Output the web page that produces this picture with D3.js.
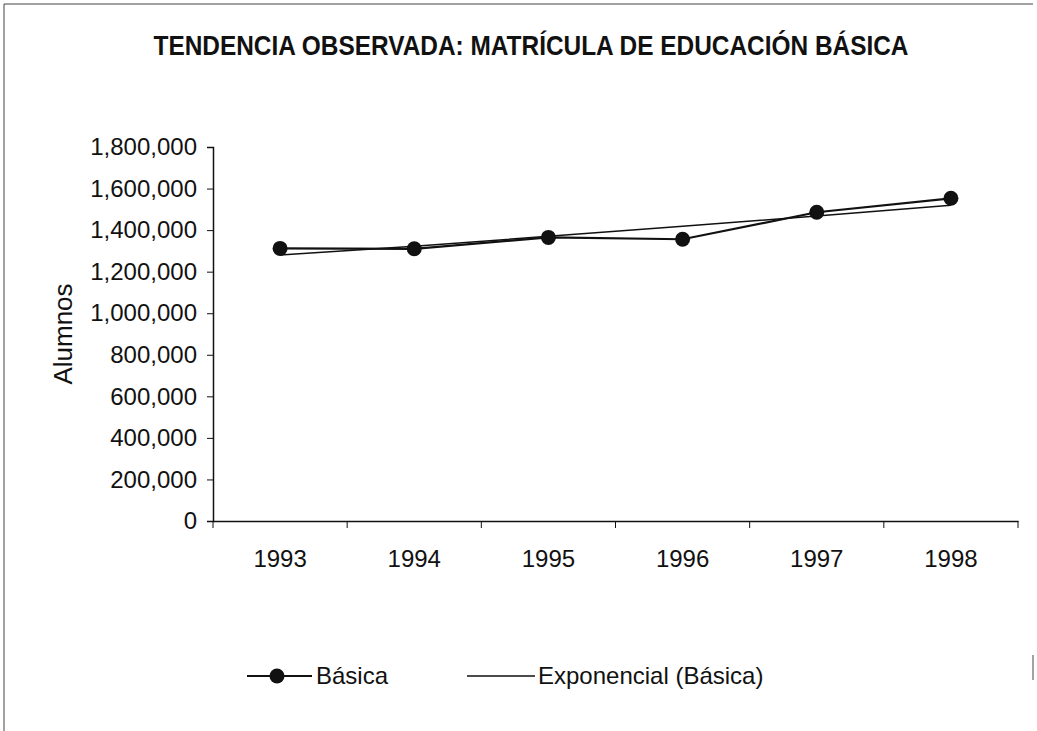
<!DOCTYPE html>
<html>
<head>
<meta charset="utf-8">
<script src="https://cdn.jsdelivr.net/npm/d3@7"></script>
<style>
  body { margin: 0; background: #fff; }
  svg { display: block; }
  text { font-family: Arial, 'Liberation Sans', sans-serif; fill: #111; }
</style>
</head>
<body>
<div id="chart"></div>
<script>
// Data
const years = ['1993', '1994', '1995', '1996', '1997', '1998'];
const basica = [1312000, 1310000, 1365000, 1356000, 1486000, 1553000];
const exponencial = [1280000, 1322000, 1370000, 1418000, 1468000, 1520000];
const yTicks = [0, 200000, 400000, 600000, 800000, 1000000, 1200000, 1400000, 1600000, 1800000];

const width = 1037, height = 731;
const margin = {left: 213, right: 19, top: 147, bottom: 210};
const fontStack = "Arial, 'Liberation Sans', sans-serif";

const svg = d3.select('#chart').append('svg')
    .attr('width', width)
    .attr('height', height);

// outer frame of the chart area (only top, left and a bit of right show)
svg.append('path')
    .attr('d', 'M4,' + (height + 10) + 'V4H1033')
    .attr('fill', 'none')
    .attr('stroke', '#444')
    .attr('stroke-width', 1);
svg.append('line')
    .attr('x1', 1033).attr('x2', 1033).attr('y1', 655).attr('y2', 680)
    .attr('stroke', '#444');

svg.append('text')
    .attr('x', 531).attr('y', 55)
    .attr('text-anchor', 'middle')
    .attr('font-size', 28)
    .attr('font-weight', 'bold')
    .style('font-family', "'Liberation Sans Narrow', Arial, sans-serif")
    .attr('textLength', 755)
    .attr('lengthAdjust', 'spacingAndGlyphs')
    .text('TENDENCIA OBSERVADA: MATRÍCULA DE EDUCACIÓN BÁSICA');

const innerW = width - margin.left - margin.right;
const innerH = height - margin.top - margin.bottom;

const x = d3.scaleBand().domain(years).range([0, innerW]);
const y = d3.scaleLinear().domain([0, 1800000]).range([innerH, 0]);

const g = svg.append('g')
    .attr('transform', 'translate(' + margin.left + ',' + margin.top + ')');

// Axes
const yAxis = g.append('g')
    .call(d3.axisLeft(y).tickValues(yTicks).tickSize(6).tickPadding(10)
        .tickFormat(d3.format(',')));
yAxis.select('.domain').attr('stroke', '#111').attr('stroke-width', 1.5);
yAxis.selectAll('.tick line').attr('stroke', '#111');
yAxis.selectAll('text')
    .style('font-size', '24px')
    .style('font-family', fontStack)
    .attr('fill', '#111');

const xAxis = g.append('g')
    .attr('transform', 'translate(0,' + innerH + ')')
    .call(d3.axisBottom(x).tickSize(0).tickPadding(29));
xAxis.select('.domain').attr('stroke', '#111').attr('stroke-width', 1.5);
xAxis.selectAll('text')
    .style('font-size', '24px')
    .style('font-family', fontStack)
    .attr('fill', '#111');

// category boundary ticks on the x axis
const bounds = years.map(d => x(d)).concat([innerW]);
g.append('g').selectAll('line')
    .data(bounds)
    .enter().append('line')
    .attr('x1', d => d).attr('x2', d => d)
    .attr('y1', innerH).attr('y2', innerH + 7)
    .attr('stroke', '#111');

g.append('text')
    .attr('transform', 'rotate(-90)')
    .attr('x', -innerH / 2)
    .attr('y', -141)
    .attr('text-anchor', 'middle')
    .attr('font-size', 26)
    .text('Alumnos');

const cx = d => x(d) + x.bandwidth() / 2;

const line = d3.line()
    .x((d, i) => cx(years[i]))
    .y(d => y(d));

// exponential trend line
g.append('path')
    .attr('d', line(exponencial))
    .attr('fill', 'none')
    .attr('stroke', '#111')
    .attr('stroke-width', 1.5);

// data series
g.append('path')
    .attr('d', line(basica))
    .attr('fill', 'none')
    .attr('stroke', '#111')
    .attr('stroke-width', 2.2);

g.selectAll('circle.pt')
    .data(basica)
    .enter().append('circle')
    .attr('class', 'pt')
    .attr('cx', (d, i) => cx(years[i]))
    .attr('cy', d => y(d))
    .attr('r', 7.5)
    .attr('fill', '#111');

// Legend
const legend = svg.append('g').attr('transform', 'translate(0,676)');
legend.append('line')
    .attr('x1', 247).attr('x2', 312).attr('y1', 0).attr('y2', 0)
    .attr('stroke', '#111').attr('stroke-width', 2);
legend.append('circle')
    .attr('cx', 277).attr('cy', 0).attr('r', 7.5)
    .attr('fill', '#111');
legend.append('text')
    .attr('x', 316).attr('y', 8)
    .attr('font-size', 24)
    .text('Básica');

legend.append('line')
    .attr('x1', 467).attr('x2', 535).attr('y1', 0).attr('y2', 0)
    .attr('stroke', '#111').attr('stroke-width', 1.5);
legend.append('text')
    .attr('x', 538).attr('y', 8)
    .attr('font-size', 24)
    .text('Exponencial (Básica)');
</script>
</body>
</html>
